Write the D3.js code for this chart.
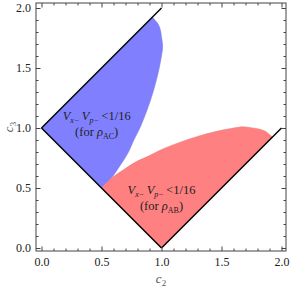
<!DOCTYPE html>
<html>
<head>
<meta charset="utf-8">
<script src="https://cdn.jsdelivr.net/npm/d3@7"></script>
<style>
  body { margin: 0; background: #fff; }
  text { font-family: "Liberation Serif", "DejaVu Serif", serif; }
</style>
</head>
<body>
<svg id="chart" width="291" height="288"></svg>
<script>
// boundary of the blue region (rho_AC), from the (0.5,0.5) corner up to the c3 = c2 + 1 edge
const blueC2 = [0.5, 0.58, 0.65, 0.72, 0.77, 0.82, 0.88, 0.93, 0.97, 1.0, 1.01, 1.0, 0.99, 0.97, 0.945, 0.925];
const blueC3 = [0.5, 0.58, 0.68, 0.79, 0.9, 1.0, 1.15, 1.3, 1.45, 1.6, 1.68, 1.76, 1.82, 1.87, 1.9, 1.925];
// boundary of the red region (rho_AB), from (0.5,0.5) to the c3 = c2 - 1 edge
const redC2 = [0.5, 0.58, 0.68, 0.79, 0.9, 1.0, 1.15, 1.3, 1.45, 1.6, 1.68, 1.76, 1.82, 1.87, 1.9, 1.925];
const redC3 = [0.5, 0.58, 0.65, 0.72, 0.77, 0.82, 0.88, 0.93, 0.97, 1.0, 1.01, 1.0, 0.99, 0.97, 0.945, 0.925];

// black boundary lines of the allowed square
const edges = [
  [[0, 1], [1, 2]],
  [[0, 1], [1, 0]],
  [[1, 0], [2, 1]]
];

const majorTicks = [0, 0.5, 1, 1.5, 2];
const minorTicks = d3.range(0, 21).map(i => i / 10).filter(v => !majorTicks.includes(v));

const svg = d3.select("#chart");
const frame = {left: 36, right: 286, top: 3, bottom: 251};

const x = d3.scaleLinear().domain([0, 2]).range([41.5, 281.5]);
const y = d3.scaleLinear().domain([0, 2]).range([248, 8]);

const area = d3.line().x(d => x(d[0])).y(d => y(d[1])).curve(d3.curveCatmullRom);
const poly = d3.line().x(d => x(d[0])).y(d => y(d[1]));

function regionPath(c2, c3, corner) {
  const curvePts = c2.map((v, i) => [v, c3[i]]);
  return area(curvePts) + "L" + x(corner[0]) + "," + y(corner[1]) + "Z";
}

svg.append("path")
  .attr("d", regionPath(blueC2, blueC3, [0, 1]))
  .attr("fill", "#8080ff")
  .attr("stroke", "#7a7ae8")
  .attr("stroke-width", 0.5);

svg.append("path")
  .attr("d", regionPath(redC2, redC3, [1, 0]))
  .attr("fill", "#ff8080")
  .attr("stroke", "#e87a7a")
  .attr("stroke-width", 0.5);

svg.append("g")
  .selectAll("path")
  .data(edges)
  .enter().append("path")
  .attr("d", poly)
  .attr("fill", "none")
  .attr("stroke", "#000")
  .attr("stroke-width", 1.4);

// frame
svg.append("rect")
  .attr("x", frame.left).attr("y", frame.top)
  .attr("width", frame.right - frame.left)
  .attr("height", frame.bottom - frame.top)
  .attr("fill", "none")
  .attr("stroke", "#444")
  .attr("stroke-width", 1);

function styleAxis(g) {
  g.select(".domain").remove();
  g.selectAll("line").attr("stroke", "#444");
  g.selectAll("text")
    .attr("font-size", 12)
    .attr("fill", "#222")
    .attr("font-family", "Liberation Serif, serif");
}

const fmt = d3.format(".1f");

// bottom
svg.append("g").attr("transform", `translate(0,${frame.bottom})`)
  .call(d3.axisBottom(x).tickValues(majorTicks).tickFormat(fmt).tickSize(-4.5).tickPadding(6))
  .call(styleAxis);
svg.append("g").attr("transform", `translate(0,${frame.bottom})`)
  .call(d3.axisBottom(x).tickValues(minorTicks).tickFormat("").tickSize(-2.5))
  .call(styleAxis);
// top
svg.append("g").attr("transform", `translate(0,${frame.top})`)
  .call(d3.axisTop(x).tickValues(majorTicks).tickFormat("").tickSize(-4.5))
  .call(styleAxis);
svg.append("g").attr("transform", `translate(0,${frame.top})`)
  .call(d3.axisTop(x).tickValues(minorTicks).tickFormat("").tickSize(-2.5))
  .call(styleAxis);
// left
svg.append("g").attr("transform", `translate(${frame.left},0)`)
  .call(d3.axisLeft(y).tickValues(majorTicks).tickFormat(fmt).tickSize(-4.5).tickPadding(5))
  .call(styleAxis);
svg.append("g").attr("transform", `translate(${frame.left},0)`)
  .call(d3.axisLeft(y).tickValues(minorTicks).tickFormat("").tickSize(-2.5))
  .call(styleAxis);
// right
svg.append("g").attr("transform", `translate(${frame.right},0)`)
  .call(d3.axisRight(y).tickValues(majorTicks).tickFormat("").tickSize(-4.5))
  .call(styleAxis);
svg.append("g").attr("transform", `translate(${frame.right},0)`)
  .call(d3.axisRight(y).tickValues(minorTicks).tickFormat("").tickSize(-2.5))
  .call(styleAxis);

// axis labels
svg.append("text")
  .attr("x", (frame.left + frame.right) / 2)
  .attr("y", 283)
  .attr("text-anchor", "middle")
  .attr("font-size", 13)
  .attr("font-style", "italic")
  .attr("fill", "#555")
  .call(t => {
    t.append("tspan").text("c");
    t.append("tspan").attr("font-size", 9).attr("font-style", "normal").attr("dy", 3).text("2");
  });

svg.append("text")
  .attr("transform", `translate(13,${(frame.top + frame.bottom) / 2}) rotate(-90)`)
  .attr("text-anchor", "middle")
  .attr("font-size", 13)
  .attr("font-style", "italic")
  .attr("fill", "#555")
  .call(t => {
    t.append("tspan").text("c");
    t.append("tspan").attr("font-size", 9).attr("font-style", "normal").attr("dy", 3).text("3");
  });

// region labels
const labels = [
  {c2: 0.46, c3: 1.067, sub: "AC"},
  {c2: 1.0, c3: 0.45, sub: "AB"}
];

labels.forEach(d => {
  const cx = x(d.c2), by = y(d.c3);
  const t1 = svg.append("text")
    .attr("x", cx).attr("y", by)
    .attr("text-anchor", "middle")
    .attr("font-size", 12.5)
    .attr("fill", "#222");
  t1.append("tspan").attr("font-style", "italic").text("V");
  t1.append("tspan").attr("font-style", "italic").attr("font-size", 8).attr("dy", 3).text("x\u2212");
  t1.append("tspan").attr("dy", -3).text("\u2009");
  t1.append("tspan").attr("font-style", "italic").text("V");
  t1.append("tspan").attr("font-style", "italic").attr("font-size", 8).attr("dy", 3).text("p\u2212");
  t1.append("tspan").attr("dy", -3).text("\u2009<1/16");

  const t2 = svg.append("text")
    .attr("x", cx).attr("y", by + 16)
    .attr("text-anchor", "middle")
    .attr("font-size", 12.5)
    .attr("fill", "#222");
  t2.append("tspan").text("(for ");
  t2.append("tspan").attr("font-style", "italic").text("\u03c1");
  t2.append("tspan").attr("font-size", 8).attr("dy", 3).text(d.sub);
  t2.append("tspan").attr("dy", -3).text(")");
});
</script>
</body>
</html>
